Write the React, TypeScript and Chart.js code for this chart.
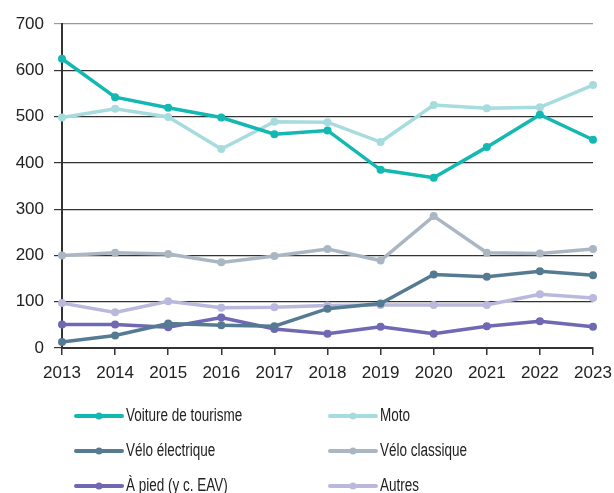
import React, { useEffect, useRef } from "react";
import { Chart, registerables } from "chart.js";

Chart.register(...registerables);

const years = ["2013", "2014", "2015", "2016", "2017", "2018", "2019", "2020", "2021", "2022", "2023"];
const voiture = [625, 542, 519, 498, 462, 470, 385, 368, 434, 504, 450];
const moto = [498, 517, 499, 430, 489, 488, 445, 525, 518, 520, 568];
const veloElectrique = [13, 27, 53, 49, 47, 85, 96, 159, 154, 166, 157];
const veloClassique = [200, 206, 203, 185, 199, 214, 189, 285, 206, 204, 214];
const aPied = [51, 51, 45, 66, 41, 31, 46, 31, 47, 58, 46];
const autres = [97, 77, 101, 87, 88, 92, 93, 93, 93, 116, 108];
const yTicks = [0, 100, 200, 300, 400, 500, 600, 700];

const seriesNames = ["Voiture de tourisme", "Moto", "Vélo électrique", "Vélo classique", "À pied (y c. EAV)", "Autres"];
const seriesColors = ["#13b8b2", "#a7dcdf", "#557b92", "#aab7c3", "#6f68b2", "#bab9dd"];
const seriesData = [voiture, moto, veloElectrique, veloClassique, aPied, autres];

const legendPlugin = {
  id: "gridLegend",
  afterDraw(chart: any) {
    const ctx = chart.ctx;
    const cols = [76, 330];
    const rows = [416, 451, 486];
    ctx.save();
    seriesNames.forEach((name, i) => {
      const col = cols[i % 2];
      const row = rows[Math.floor(i / 2)];
      const color = seriesColors[i];
      ctx.strokeStyle = color;
      ctx.lineWidth = 4;
      ctx.lineCap = "round";
      ctx.beginPath();
      ctx.moveTo(col, row);
      ctx.lineTo(col + 46, row);
      ctx.stroke();
      ctx.fillStyle = color;
      ctx.beginPath();
      ctx.arc(col + 23, row, 3.5, 0, Math.PI * 2);
      ctx.fill();
      ctx.save();
      ctx.fillStyle = "#222";
      ctx.font = "18px 'Liberation Sans', Arial, sans-serif";
      ctx.textBaseline = "middle";
      ctx.textAlign = "left";
      ctx.translate(col + 50, row);
      ctx.scale(0.75, 1);
      ctx.fillText(name, 0, 0);
      ctx.restore();
    });
    ctx.restore();
  },
};

export default function App() {
  const ref = useRef<HTMLCanvasElement>(null);
  useEffect(() => {
    document.body.style.margin = "0";
    const chart = new Chart(ref.current!, {
      type: "line",
      data: {
        labels: years,
        datasets: seriesNames.map((name, i) => ({
          label: name,
          data: seriesData[i],
          borderColor: seriesColors[i],
          backgroundColor: seriesColors[i],
          borderWidth: 3.5,
          pointRadius: 4,
          pointBorderWidth: 0,
          tension: 0,
        })),
      },
      options: {
        responsive: false,
        animation: false,
        layout: { padding: { top: 24, right: 21, left: 0, bottom: 0 } },
        plugins: { legend: { display: false }, tooltip: { enabled: false } },
        scales: {
          x: {
            offset: false,
            grid: { drawOnChartArea: false, drawTicks: true, tickLength: 7, color: "#333", lineWidth: 1.5 },
            border: { color: "#333", width: 2 },
            ticks: { color: "#222", font: { size: 17, family: "'Liberation Sans', Arial, sans-serif" }, padding: 8, maxRotation: 0 },
            afterFit: (s: any) => { s.height = 145; s.paddingRight = 0; s.paddingLeft = 0; },
          },
          y: {
            min: 0,
            max: 700,
            afterBuildTicks: (s: any) => { s.ticks = yTicks.map((v) => ({ value: v })); },
            grid: {
              color: (c: any) => (c.tick && c.tick.value === 700 ? "#999" : "#333"),
              lineWidth: 1.2,
              tickLength: 8,
            },
            border: { color: "#333", width: 2 },
            ticks: { color: "#222", font: { size: 17, family: "'Liberation Sans', Arial, sans-serif" }, padding: 10 },
            afterFit: (s: any) => { s.width = 62; s.paddingTop = 0; s.paddingBottom = 0; },
          },
        },
      },
      plugins: [legendPlugin],
    });
    return () => chart.destroy();
  }, []);
  return (
    <div style={{ width: 614, height: 493, overflow: "hidden" }}>
      <canvas ref={ref} width={614} height={493} style={{ display: "block" }} />
    </div>
  );
}
